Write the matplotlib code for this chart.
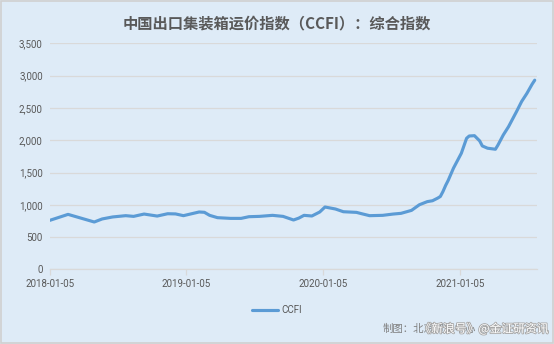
import pandas as pd
import matplotlib.pyplot as plt
import matplotlib.patheffects as pe
from matplotlib.patches import Rectangle

plt.rcParams['font.family'] = ['Noto Sans CJK SC', 'DejaVu Sans']

# weeks since 2018-01-05, CCFI composite values
weeks = [0, 7, 17, 20, 24, 29, 32, 36, 41, 45, 48, 51, 57, 59, 61, 64, 69, 73, 76, 80,
         85, 89, 93, 95, 97, 100, 103, 105, 109, 112, 117, 119, 122, 127, 131, 134, 138,
         141, 144, 146, 148, 149, 150, 151, 152, 154, 157, 159, 160, 162, 164, 165, 167,
         170, 171, 173, 175, 178, 180, 182, 184, 185]
ccfi = [760, 853, 735, 782, 813, 833, 822, 858, 827, 863, 860, 833, 890, 885, 838, 802,
        791, 791, 817, 822, 838, 822, 766, 795, 838, 828, 890, 967, 936, 894, 884, 863,
        833, 838, 858, 869, 915, 1002, 1050, 1064, 1105, 1130, 1207, 1300, 1380, 1568,
        1799, 2030, 2066, 2071, 1990, 1912, 1877, 1861, 1928, 2082, 2210, 2440, 2600,
        2725, 2868, 2930]
tick_labels = ["2018-01-05", "2019-01-05", "2020-01-05", "2021-01-05"]

start = pd.Timestamp("2018-01-05")
dates = start + pd.to_timedelta([w * 7 for w in weeks], unit="D")

bg = "#DEEBF7"
grey = "#595959"

fig = plt.figure(figsize=(5.54, 3.44), dpi=100, facecolor=bg)
ax = fig.add_axes([0.0897, 0.2166, 0.8796, 0.6574], facecolor=bg)

ax.plot(dates, ccfi, color="#5B9BD5", lw=2.25, label="CCFI", solid_capstyle="round")

ax.set_ylim(0, 3500)
ax.set_yticks(range(0, 3501, 500))
ax.set_yticklabels([f"{v:,}" for v in range(0, 3501, 500)], fontsize=7, color=grey,
                   fontfamily="Roboto")
ax.set_xlim(start, start + pd.Timedelta(days=1301))
ax.set_xticks(pd.to_datetime(tick_labels))
ax.set_xticklabels(tick_labels, fontsize=7, color=grey, fontfamily="Roboto")

ax.grid(axis="y", color="#D9D9D9", lw=0.9)
ax.set_axisbelow(True)
for s in ["top", "right", "left"]:
    ax.spines[s].set_visible(False)
ax.spines["bottom"].set_color("#D9D9D9")
ax.spines["bottom"].set_linewidth(0.9)
ax.tick_params(axis="y", length=0, pad=5)
ax.tick_params(axis="x", length=4, color="#D9D9D9", width=0.9, pad=3)

fig.text(0.5, 1 - 23 / 344, "中国出口集装箱运价指数（CCFI）：综合指数", ha="center", va="center",
         fontsize=11, fontweight="bold", color=grey)

leg = fig.legend(loc="center", bbox_to_anchor=(0.5, 1 - 310 / 344), frameon=False,
                 prop={"family": "Roboto", "size": 7}, handlelength=2.6, handletextpad=0.35)
for t in leg.get_texts():
    t.set_color(grey)

fig.text(383 / 554, 1 - 329 / 344, "制图：北京资本中心", fontsize=7.5, color="#7F7F7F",
         ha="left", va="center")
fig.text(548 / 554, 1 - 329 / 344, "《新浪号》@金证研资讯", fontsize=8.5, color="white",
         ha="right", va="center", fontstyle="italic",
         path_effects=[pe.withStroke(linewidth=1.2, foreground="#A6A6A6")])

fig.patches.append(Rectangle((0.001, 0.002), 0.997, 0.995, transform=fig.transFigure,
                             fill=False, edgecolor="#D0D0D0", lw=1.2))

fig.savefig("out.png", dpi=100, facecolor=bg)
